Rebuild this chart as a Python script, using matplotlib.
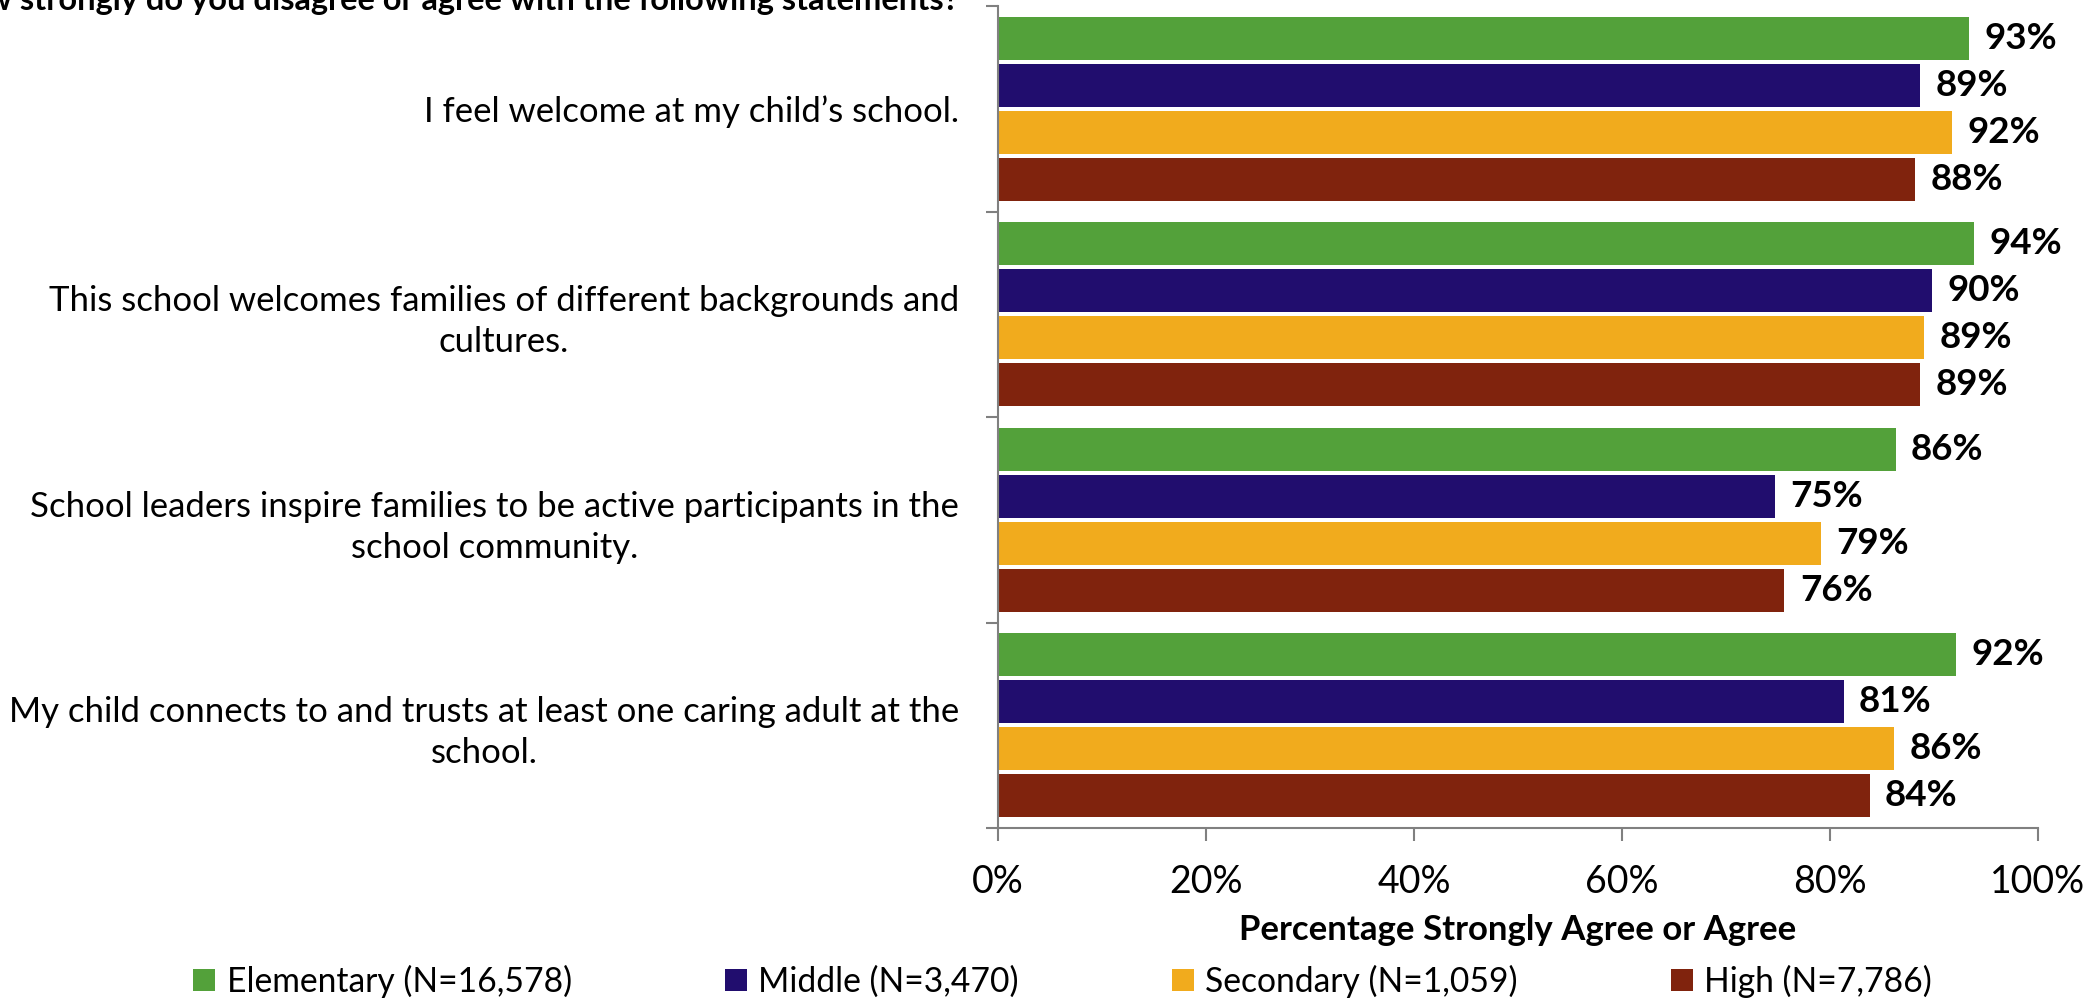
import numpy as np
import matplotlib
matplotlib.use("Agg")
import matplotlib.pyplot as plt
from matplotlib.patches import Patch

plt.rcParams['font.family'] = ['Lato', 'DejaVu Sans']

# statements (top to bottom)
statements = [
    "I feel welcome at my child\u2019s school.",
    "This school welcomes families of different backgrounds and\ncultures.",
    "School leaders inspire families to be active participants in the\nschool community.",
    "My child connects to and trusts at least one caring adult at the\nschool.",
]

groups = ["Elementary (N=16,578)", "Middle (N=3,470)", "Secondary (N=1,059)", "High (N=7,786)"]
colors = ["#53A13A", "#210D6E", "#F1AB1D", "#80230D"]

# percent strongly agree / agree, one list per school level
elementary = [93.4, 93.8, 86.3, 92.1]
middle = [88.7, 89.8, 74.7, 81.3]
secondary = [91.7, 89.0, 79.1, 86.2]
high = [88.2, 88.7, 75.6, 83.8]
series = [elementary, middle, secondary, high]

title = "How strongly do you disagree or agree with the following statements?"
xlabel = "Percentage Strongly Agree or Agree"

W, H = 2097, 999

fig = plt.figure(figsize=(W / 100, H / 100), dpi=100)
ax = fig.add_axes([998 / W, 1 - 828 / H, (2038 - 998) / W, (828 - 6) / H])

y = np.arange(len(statements))
pitch = 0.229
bh = 0.21
for i, (vals, col) in enumerate(zip(series, colors)):
    pos = y + (i - 1.5) * pitch
    ax.barh(pos, vals, height=bh, color=col, edgecolor='none')
    for p, v in zip(pos, vals):
        ax.text(v + 1.5, p, f"{round(v):d}%", va='center', ha='left',
                fontsize=26.5, fontweight='bold', color='black')

ax.set_xlim(0, 100)
ax.set_ylim(len(statements) - 0.5, -0.5)

ax.set_xticks(np.arange(0, 101, 20))
ax.set_xticklabels([f"{t}%" for t in range(0, 101, 20)], fontsize=27)
ax.set_yticks(np.arange(-0.5, len(statements), 1.0))
ax.set_yticklabels([])
ax.set_yticks(y, minor=True)
ax.set_yticklabels(statements, minor=True, fontsize=25, ha='right',
                   multialignment='center', linespacing=1.35)
ax.tick_params(axis='y', which='minor', length=0, pad=28)
ax.tick_params(axis='y', which='major', length=9, width=1.5, color='#808080', direction='out')
ax.tick_params(axis='x', length=9, width=1.5, color='#808080', direction='out', pad=17)

for s in ['top', 'right']:
    ax.spines[s].set_visible(False)
for s in ['left', 'bottom']:
    ax.spines[s].set_color('#808080')
    ax.spines[s].set_linewidth(1.5)

ax.set_xlabel(xlabel, fontsize=25, fontweight='bold', labelpad=10)

fig.text(959 / W, 1 - 10 / H, title, ha='right', va='baseline',
         fontsize=23.5, fontweight='bold')

handles = [Patch(facecolor=c, edgecolor='none') for c in colors]
fig.legend(handles, groups, loc='center left', bbox_to_anchor=(193 / W, 1 - 981 / H),
           ncol=4, frameon=False, fontsize=24.2, borderpad=0, borderaxespad=0,
           handlelength=0.65, handleheight=0.65, handletextpad=0.35, columnspacing=4.55)

fig.savefig("out.png", dpi=100)
